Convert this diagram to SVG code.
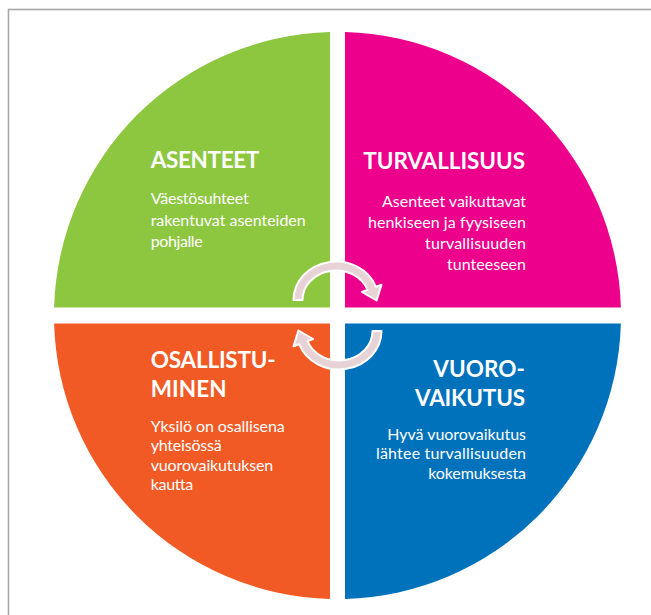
<svg xmlns="http://www.w3.org/2000/svg" xmlns:xlink="http://www.w3.org/1999/xlink" width="651" height="615" viewBox="0 0 651 615">
  <style>
    .title { font-family: Lato, "Open Sans", "Liberation Sans", sans-serif; font-weight: bold; font-size: 22.5px; fill: #ffffff; }
    .body { font-family: Lato, "Open Sans", "Liberation Sans", sans-serif; font-size: 16px; fill: #ffffff; }
    .end { text-anchor: end; }
    .arrow { fill: #E7D2D5; stroke: #ffffff; stroke-width: 2; stroke-linejoin: round; }
  </style>
  <defs>
    <path id="cycle-arrow" d="M 293.5 300 A 42.5 38.5 0 0 1 375.9 286.8 L 381.5 284.7 L 376.6 300.5 L 361.9 292 L 367.5 289.9 A 33.5 29.5 0 0 0 302.5 300 Z"/>
  </defs>
  <rect x="0" y="0" width="651" height="615" fill="#ffffff"/>
  <rect id="frame" x="8.5" y="9.5" width="700" height="700" fill="none" stroke="#A8A8A8" stroke-width="1.6"/>

  <g id="asenteet">
    <path d="M 330 307.5 H 54.11 A 283.5 283.5 0 0 1 330 32.1 Z" fill="#8DC63F"/>
    <text class="title" x="150.7" y="168" textLength="108.6">ASENTEET</text>
    <text class="body" x="150.7" y="204" textLength="98">Väestösuhteet</text>
    <text class="body" x="150.7" y="225.5" textLength="155">rakentuvat asenteiden</text>
    <text class="body" x="150.7" y="247" textLength="52">pohjalle</text>
  </g>

  <g id="turvallisuus">
    <path d="M 345 307.5 V 32.1 A 283.5 283.5 0 0 1 620.89 307.5 Z" fill="#EC008C"/>
    <text class="title end" x="525" y="169" textLength="161.7">TURVALLISUUS</text>
    <text class="body end" x="526" y="206.5" textLength="144">Asenteet vaikuttavat</text>
    <text class="body end" x="526" y="227.5" textLength="158">henkiseen ja fyysiseen</text>
    <text class="body end" x="526" y="248.5" textLength="101">turvallisuuden</text>
    <text class="body end" x="526" y="269.5" textLength="79">tunteeseen</text>
  </g>

  <g id="vuorovaikutus">
    <path d="M 345 323.5 H 620.89 A 283.5 283.5 0 0 1 345 598.9 Z" fill="#0072BC"/>
    <text class="title end" x="525" y="377.3" textLength="91.7">VUORO-</text>
    <text class="title end" x="525" y="405.7" textLength="110">VAIKUTUS</text>
    <text class="body end" x="526" y="440" textLength="138.7">Hyvä vuorovaikutus</text>
    <text class="body end" x="526" y="459.3" textLength="150">lähtee turvallisuuden</text>
    <text class="body end" x="526" y="478.5" textLength="97.7">kokemuksesta</text>
  </g>

  <g id="osallistuminen">
    <path d="M 330 323.5 V 598.9 A 283.5 283.5 0 0 1 54.11 323.5 Z" fill="#F15A24"/>
    <text class="title" x="150.7" y="368.3" textLength="125">OSALLISTU-</text>
    <text class="title" x="150.7" y="397.3" textLength="76">MINEN</text>
    <text class="body" x="150.7" y="431.7" textLength="134">Yksilö on osallisena</text>
    <text class="body" x="150.7" y="451" textLength="71">yhteisössä</text>
    <text class="body" x="150.7" y="470.7" textLength="122.6">vuorovaikutuksen</text>
    <text class="body" x="150.7" y="490" textLength="42.6">kautta</text>
  </g>

  <g id="connectors">
    <use xlink:href="#cycle-arrow" class="arrow"/>
    <use xlink:href="#cycle-arrow" class="arrow" transform="rotate(180 337.5 315.5)"/>
  </g>
</svg>
